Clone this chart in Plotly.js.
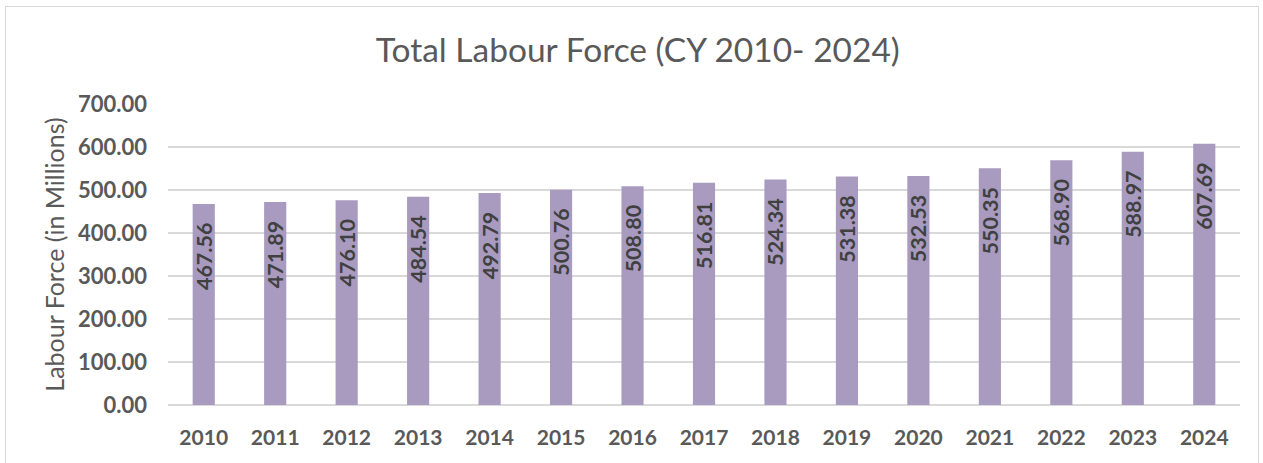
<!DOCTYPE html>
<html>
<head>
<meta charset="utf-8">
<script src="https://cdn.plot.ly/plotly-3.0.1.min.js"></script>
<style>
  html, body { margin: 0; padding: 0; background: #fff; }
  #chart { width: 1263px; height: 463px; }
  #frame { position: absolute; left: 5px; top: 6px; width: 1252px; height: 470px; border: 1px solid #d9d9d9; pointer-events: none; }
</style>
</head>
<body>
<div id="chart"></div>
<div id="frame"></div>
<script>
const years = ['2010','2011','2012','2013','2014','2015','2016','2017','2018','2019','2020','2021','2022','2023','2024'];
const labourForce = [467.56, 471.89, 476.10, 484.54, 492.79, 500.76, 508.80, 516.81, 524.34, 531.38, 532.53, 550.35, 568.90, 588.97, 607.69];
const yTicks = [0, 100, 200, 300, 400, 500, 600, 700];

const FONT = 'Lato, "Open Sans", sans-serif';
const GREY = '#595959';
const PAD = '\u00a0\u00a0\u00a0';

Plotly.newPlot('chart', [{
  type: 'bar',
  x: years,
  y: labourForce,
  marker: { color: '#a89bbf' },
  text: labourForce.map(v => v.toFixed(2) + PAD),
  textposition: 'inside',
  insidetextanchor: 'end',
  textangle: -90,
  constraintext: 'none',
  textfont: { family: FONT, size: 21.5, color: '#404040', weight: 'bold' },
  hoverinfo: 'x+y'
}], {
  width: 1263,
  height: 463,
  margin: { l: 168, r: 23, t: 104, b: 58 },
  paper_bgcolor: '#ffffff',
  plot_bgcolor: '#ffffff',
  bargap: 0.69,
  showlegend: false,
  title: {
    text: 'Total Labour Force (CY 2010- 2024)',
    font: { family: FONT, size: 33.5, color: GREY },
    x: 0.505, xanchor: 'center',
    y: 0.892, yanchor: 'middle', yref: 'container'
  },
  xaxis: {
    type: 'category',
    showgrid: false,
    showline: false,
    ticks: '',
    tickfont: { family: FONT, size: 21, color: GREY, weight: 'bold' },
    ticklabelstandoff: 18
  },
  yaxis: {
    range: [0, 700],
    tickvals: yTicks,
    tickformat: '.2f',
    showgrid: true,
    gridcolor: '#d9d9d9',
    gridwidth: 1.5,
    zeroline: true,
    zerolinecolor: '#d9d9d9',
    zerolinewidth: 1.5,
    showline: false,
    ticks: '',
    ticklabelstandoff: 20,
    tickfont: { family: FONT, size: 22, color: GREY, weight: 'bold' },
    title: {
      text: 'Labour Force (in Millions)',
      font: { family: FONT, size: 25, color: GREY },
      standoff: 6
    }
  }
}, { displayModeBar: false, staticPlot: true });
</script>
</body>
</html>
